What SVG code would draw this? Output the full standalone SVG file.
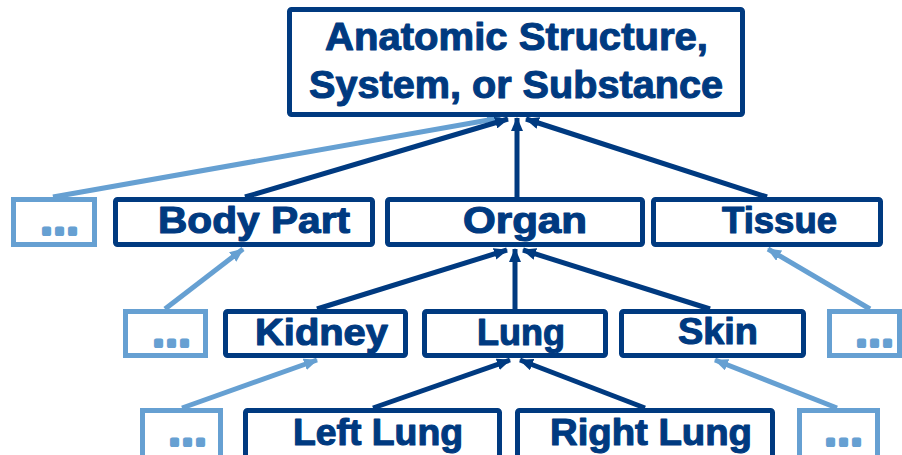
<svg xmlns="http://www.w3.org/2000/svg" width="902" height="455" viewBox="0 0 902 455">
<defs>
<marker id="ad" viewBox="0 0 14 12" refX="13" refY="6" markerWidth="14" markerHeight="12" markerUnits="userSpaceOnUse" orient="auto"><path d="M0,0 L14,6 L0,12 Z" fill="#003A80"/></marker>
<marker id="al" viewBox="0 0 14 12" refX="13" refY="6" markerWidth="14" markerHeight="12" markerUnits="userSpaceOnUse" orient="auto"><path d="M0,0 L14,6 L0,12 Z" fill="#66A0D2"/></marker>
</defs>
<style>
.bx{fill:#fff;stroke:#003A80;stroke-width:5}
.lb{fill:#fff;stroke:#66A0D2;stroke-width:5}
.t{font-family:"Liberation Sans",Arial,sans-serif;font-weight:bold;fill:#003A80;stroke:#003A80;stroke-width:1.1;stroke-linejoin:round;font-size:36px}
.tt{font-size:39px}
.d{font-family:"Liberation Sans",Arial,sans-serif;font-weight:bold;fill:#66A0D2;stroke:#66A0D2;stroke-width:4;stroke-linejoin:round;font-size:36px;letter-spacing:3px;text-anchor:middle}
.cd{stroke:#003A80;stroke-width:5;fill:none;marker-end:url(#ad)}
.cl{stroke:#66A0D2;stroke-width:5;fill:none;marker-end:url(#al)}
</style>
<rect width="902" height="455" fill="#fff"/>
<g id="connectors">
<line class="cl" x1="53" y1="197" x2="500" y2="118"/>
<line class="cd" x1="245" y1="197" x2="508" y2="119"/>
<line class="cd" x1="517" y1="197" x2="517" y2="118"/>
<line class="cd" x1="767" y1="197" x2="526" y2="119"/>
<line class="cl" x1="165" y1="309" x2="243" y2="249"/>
<line class="cd" x1="317" y1="309" x2="507" y2="250"/>
<line class="cd" x1="515" y1="309" x2="515" y2="249"/>
<line class="cd" x1="710" y1="309" x2="523" y2="250"/>
<line class="cl" x1="870" y1="309" x2="768" y2="249"/>
<line class="cl" x1="182" y1="408" x2="317" y2="360"/>
<line class="cd" x1="373" y1="408" x2="510" y2="360"/>
<line class="cd" x1="645" y1="408" x2="520" y2="360"/>
<line class="cl" x1="837" y1="408" x2="715" y2="360"/>
</g>
<g id="n-top"><rect class="bx" x="289.5" y="9.5" width="453" height="105" rx="2"/>
<text class="t tt" x="325" y="50" textLength="383" lengthAdjust="spacingAndGlyphs">Anatomic Structure,</text>
<text class="t tt" x="309" y="98" textLength="414" lengthAdjust="spacingAndGlyphs">System, or Substance</text></g>
<g id="n-more1"><rect class="lb" x="13.5" y="199.5" width="81" height="45"/><text class="d" x="61" y="234">...</text></g>
<g id="n-bodypart"><rect class="bx" x="115.5" y="199.5" width="257" height="45" rx="2"/><text class="t" x="158" y="233" textLength="192" lengthAdjust="spacingAndGlyphs">Body Part</text></g>
<g id="n-organ"><rect class="bx" x="387.5" y="199.5" width="255" height="45" rx="2"/><text class="t" x="463" y="233" textLength="124" lengthAdjust="spacingAndGlyphs">Organ</text></g>
<g id="n-tissue"><rect class="bx" x="653.5" y="199.5" width="227" height="45" rx="2"/><text class="t" x="722" y="233" textLength="115" lengthAdjust="spacingAndGlyphs">Tissue</text></g>
<g id="n-more2"><rect class="lb" x="125.5" y="311.5" width="80" height="44"/><text class="d" x="173" y="346">...</text></g>
<g id="n-kidney"><rect class="bx" x="225.5" y="311.5" width="180" height="44" rx="2"/><text class="t" x="255" y="345" textLength="133" lengthAdjust="spacingAndGlyphs">Kidney</text></g>
<g id="n-lung"><rect class="bx" x="424.5" y="311.5" width="181" height="44" rx="2"/><text class="t" x="477" y="345" textLength="88" lengthAdjust="spacingAndGlyphs">Lung</text></g>
<g id="n-skin"><rect class="bx" x="621.5" y="311.5" width="182" height="44" rx="2"/><text class="t" x="678" y="344" textLength="80" lengthAdjust="spacingAndGlyphs">Skin</text></g>
<g id="n-more3"><rect class="lb" x="829.5" y="311.5" width="70" height="44"/><text class="d" x="876" y="346">...</text></g>
<g id="n-more4"><rect class="lb" x="142.5" y="410.5" width="78" height="60"/><text class="d" x="189" y="445">...</text></g>
<g id="n-leftlung"><rect class="bx" x="245.5" y="410.5" width="254" height="60" rx="2"/><text class="t" x="293" y="445" textLength="170" lengthAdjust="spacingAndGlyphs">Left Lung</text></g>
<g id="n-rightlung"><rect class="bx" x="517.5" y="410.5" width="255" height="60" rx="2"/><text class="t" x="550" y="445" textLength="202" lengthAdjust="spacingAndGlyphs">Right Lung</text></g>
<g id="n-more5"><rect class="lb" x="799.5" y="410.5" width="78" height="60"/><text class="d" x="845" y="445">...</text></g>
</svg>
